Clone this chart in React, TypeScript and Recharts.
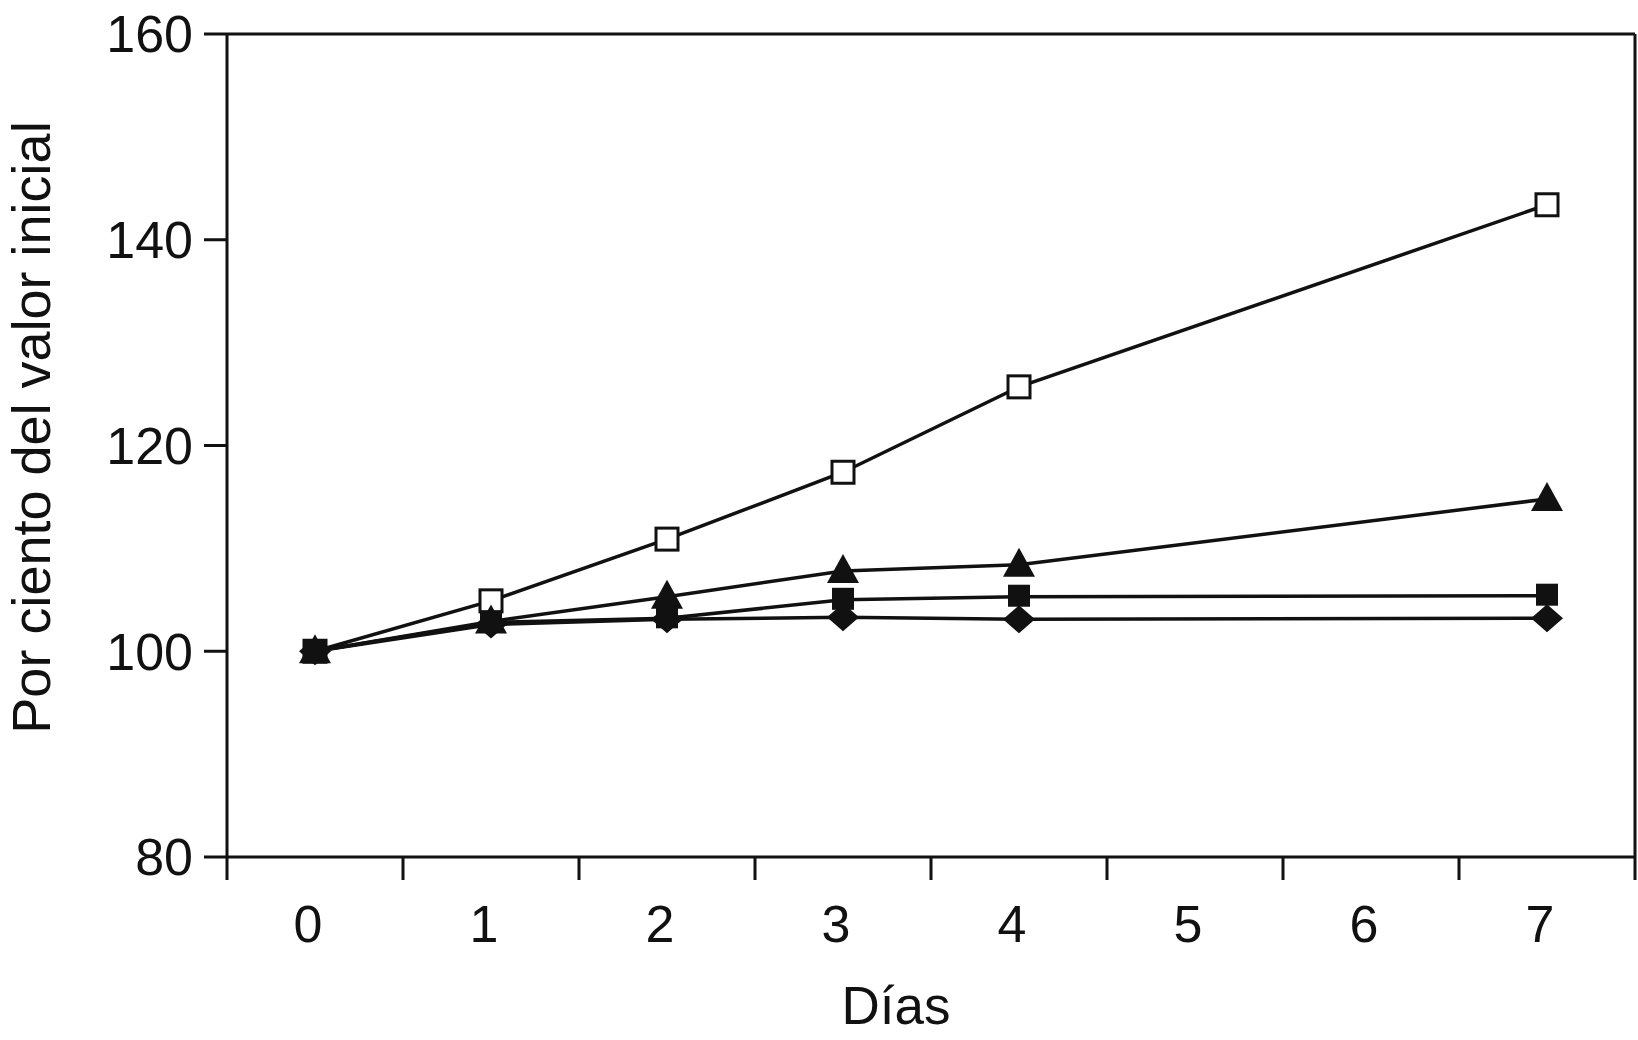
import { LineChart, Line, XAxis, YAxis } from "recharts";

const days = [0, 1, 2, 3, 4, 7];
const openSquare = [100, 104.9, 110.9, 117.4, 125.7, 143.4];
const triangle = [100, 102.9, 105.3, 107.8, 108.4, 114.8];
const filledSquare = [100, 102.8, 103.2, 105.0, 105.3, 105.4];
const diamond = [100, 102.6, 103.1, 103.3, 103.1, 103.2];

const dayTicks = [0, 1, 2, 3, 4, 5, 6, 7];
const bandEdges = [-0.5, 0.5, 1.5, 2.5, 3.5, 4.5, 5.5, 6.5, 7.5];
const yTicks = [80, 100, 120, 140, 160];

const data = days.map((d, i) => ({
  day: d,
  openSquare: openSquare[i],
  triangle: triangle[i],
  filledSquare: filledSquare[i],
  diamond: diamond[i],
}));

const INK = "#111";
const FONT = "'Liberation Sans', Arial, sans-serif";
const tickStyle = { fontSize: 52, fill: INK, fontFamily: FONT };

const OpenSquareDot = (p: any) => (
  <rect key={p.key} x={p.cx - 11} y={p.cy - 11} width={22} height={22} fill="#fff" stroke={INK} strokeWidth={3} />
);
const FilledSquareDot = (p: any) => (
  <rect key={p.key} x={p.cx - 11} y={p.cy - 12} width={22} height={22} fill={INK} />
);
const TriangleDot = (p: any) => (
  <path key={p.key} d={`M${p.cx},${p.cy - 17} L${p.cx + 16},${p.cy + 12} L${p.cx - 16},${p.cy + 12} Z`} fill={INK} />
);
const DiamondDot = (p: any) => (
  <path key={p.key} d={`M${p.cx},${p.cy - 14} L${p.cx + 16},${p.cy} L${p.cx},${p.cy + 14} L${p.cx - 16},${p.cy} Z`} fill={INK} />
);

export default function App() {
  return (
    <div style={{ position: "absolute", left: 0, top: 0, background: "#fff" }}>
      <LineChart
        width={1638}
        height={1040}
        data={data}
        margin={{ top: 33, right: 2, left: 0, bottom: 0 }}
        style={{ fontFamily: FONT }}
      >
        {/* band edges: axis line + tick marks between the day labels */}
        <XAxis
          xAxisId="axis1"
          dataKey="day"
          type="number"
          domain={[-0.5, 7.5]}
          ticks={bandEdges}
          tickFormatter={() => ""}
          tickSize={23}
          height={1}
          axisLine={{ stroke: INK, strokeWidth: 3 }}
          tickLine={{ stroke: INK, strokeWidth: 3 }}
        />
        {/* day labels */}
        <XAxis
          xAxisId="axis2"
          dataKey="day"
          type="number"
          domain={[-0.5, 7.5]}
          ticks={dayTicks}
          height={182}
          axisLine={false}
          tickLine={false}
          tickSize={22}
          tickMargin={25}
          tick={{ ...tickStyle, dx: -7 }}
          label={{
            value: "Días",
            position: "insideBottom",
            offset: 16,
            dx: -35,
            style: { fontSize: 53, fill: INK, fontFamily: FONT },
          }}
        />
        <XAxis
          xAxisId="top"
          orientation="top"
          dataKey="day"
          type="number"
          domain={[-0.5, 7.5]}
          tick={false}
          tickLine={false}
          height={1}
          axisLine={{ stroke: INK, strokeWidth: 3 }}
        />
        <YAxis
          yAxisId="left"
          domain={[80, 160]}
          ticks={yTicks}
          width={227}
          tickSize={23}
          tickMargin={11}
          tick={tickStyle}
          axisLine={{ stroke: INK, strokeWidth: 3 }}
          tickLine={{ stroke: INK, strokeWidth: 3 }}
          label={{
            value: "Por ciento del valor inicial",
            angle: -90,
            position: "insideLeft",
            offset: 31,
            dy: -18,
            style: { fontSize: 54, fill: INK, fontFamily: FONT, textAnchor: "middle" },
          }}
        />
        <YAxis
          yAxisId="right"
          orientation="right"
          domain={[80, 160]}
          width={1}
          tick={false}
          tickLine={false}
          axisLine={{ stroke: INK, strokeWidth: 3 }}
        />
        <Line xAxisId="axis2" yAxisId="left" dataKey="openSquare" stroke={INK} strokeWidth={3.5} dot={OpenSquareDot} isAnimationActive={false} />
        <Line xAxisId="axis2" yAxisId="left" dataKey="triangle" stroke={INK} strokeWidth={3.5} dot={TriangleDot} isAnimationActive={false} />
        <Line xAxisId="axis2" yAxisId="left" dataKey="filledSquare" stroke={INK} strokeWidth={3.5} dot={FilledSquareDot} isAnimationActive={false} />
        <Line xAxisId="axis2" yAxisId="left" dataKey="diamond" stroke={INK} strokeWidth={3.5} dot={DiamondDot} isAnimationActive={false} />
      </LineChart>
    </div>
  );
}
